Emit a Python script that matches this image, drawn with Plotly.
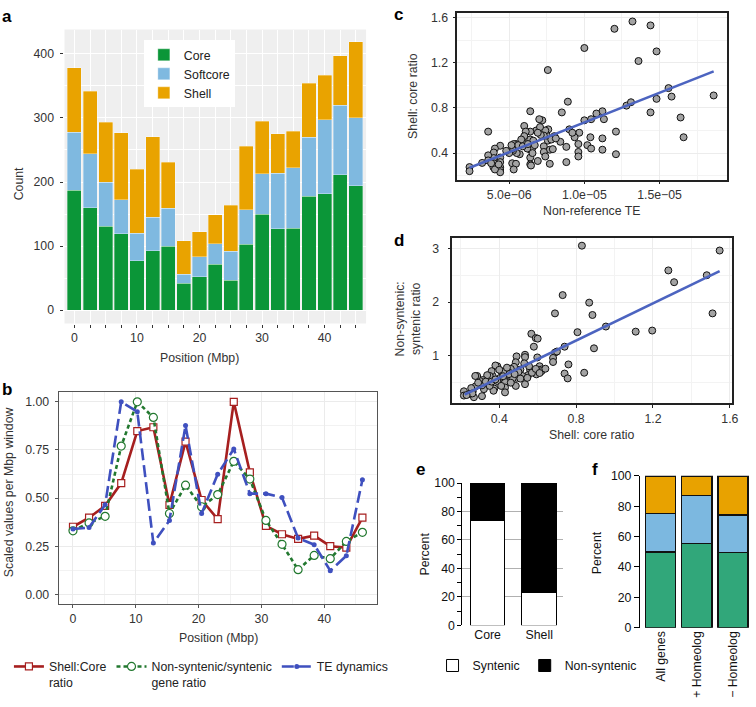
import plotly.graph_objects as go

W, H = 756, 707
FONT = "Liberation Sans"

# ---------------- Panel a data ----------------
a_positions = [i * 2.52 for i in range(19)]
a_tick_labels = ["0", "", "", "", "10", "", "", "", "20", "", "", "", "30", "", "", "", "40", "", ""]
a_core = [187, 160, 131, 119, 77, 93, 100, 42, 52, 72, 47, 103, 150, 127, 128, 178, 182, 211, 194]
a_softcore_top = [278, 244, 200, 172, 120, 145, 159, 56, 83, 104, 92, 157, 213, 214, 222, 270, 297, 320, 300]
a_total = [378, 342, 293, 277, 220, 271, 231, 108, 122, 149, 164, 256, 295, 275, 279, 354, 367, 397, 419]
a_softcore = [s - c for s, c in zip(a_softcore_top, a_core)]
a_shell = [t - s for t, s in zip(a_total, a_softcore_top)]

# ---------------- Panel b data ----------------
b_positions = [i * 2.56 for i in range(19)]
b_shell_core = [0.351, 0.398, 0.46, 0.578, 0.848, 0.868, 0.465, 0.793, 0.49, 0.391, 1.0, 0.634,
                0.356, 0.312, 0.288, 0.305, 0.25, 0.243, 0.398]
b_nonsyn = [0.33, 0.371, 0.405, 0.77, 1.0, 0.919, 0.42, 0.567, 0.455, 0.518, 0.691, 0.599,
            0.384, 0.26, 0.128, 0.202, 0.185, 0.275, 0.322]
b_te = [0.339, 0.347, 0.465, 1.0, 0.949, 0.266, 0.384, 0.877, 0.42, 0.624, 0.755, 0.523,
        0.523, 0.503, 0.292, 0.258, 0.123, 0.2, 0.595]

# ---------------- Panel c data (x in units of 1e-6) ----------------
c_te_micro = [7.57, 10.0, 12.0, 13.2, 14.4, 14.8, 13.6, 15.6, 15.8, 18.6, 14.8, 14.4, 16.4, 16.6, 12.8, 13.1,
              12.1, 12.1, 11.2, 11.3, 11.2, 11.2, 10.8, 10.45, 10.0, 10.2, 10.4, 10.45, 9.66, 9.6, 9.6, 9.6,
              9.35, 9.0, 9.2, 8.9, 8.8, 8.8, 8.5, 8.4, 8.0, 7.7, 7.7, 7.57, 7.5, 7.6, 7.2, 7.0, 7.4, 7.3,
              7.3, 7.3, 7.4, 6.9, 6.8, 7.05, 7.1, 6.4, 6.4, 6.4, 6.4, 6.4, 6.4, 6.45, 6.6, 6.55, 6.0, 6.1,
              6.0, 5.95, 5.8, 5.7, 5.5, 5.45, 5.3, 5.25, 5.2, 5.45, 5.3, 5.2, 5.0, 4.8, 4.4, 4.4, 4.4, 4.4,
              4.4, 4.4, 4.05, 3.97, 3.97, 3.97, 3.95, 4.05, 3.6, 3.6, 3.6, 3.2, 2.36, 2.36, 6.55, 7.9, 5.6,
              6.2, 6.9, 7.8, 5.15, 4.3, 3.8, 6.7, 8.1, 5.9, 6.25]
c_ratio = [1.135, 1.33, 1.50, 1.565, 1.53, 1.30, 1.215, 0.975, 0.90, 0.91, 0.88, 0.76, 0.715, 0.54, 0.82, 0.85,
           0.59, 0.39, 0.77, 0.70, 0.53, 0.43, 0.75, 0.70, 0.69, 0.47, 0.54, 0.44, 0.58, 0.48, 0.41, 0.37,
           0.54, 0.61, 0.58, 0.855, 0.455, 0.32, 0.76, 0.50, 0.55, 0.305, 0.43, 0.51, 0.555, 0.61, 0.69, 0.70,
           0.60, 0.555, 0.46, 0.41, 0.37, 0.33, 0.60, 0.63, 0.56, 0.77, 0.59, 0.52, 0.43, 0.36, 0.30, 0.29,
           0.51, 0.45, 0.64, 0.59, 0.55, 0.49, 0.52, 0.39, 0.40, 0.48, 0.48, 0.42, 0.31, 0.305, 0.255, 0.435,
           0.40, 0.42, 0.465, 0.36, 0.32, 0.275, 0.25, 0.23, 0.44, 0.405, 0.356, 0.31, 0.275, 0.255, 0.59,
           0.38, 0.335, 0.313, 0.276, 0.24, 0.40, 0.435, 0.47, 0.44, 0.58, 0.52, 0.47, 0.30, 0.31, 0.47,
           0.53, 0.46, 0.48]
c_te = [v * 1e-6 for v in c_te_micro]
c_fit_x = [2.36e-6, 18.6e-6]
c_fit_y = [0.27, 1.123]
c_tickvals = [5e-6, 1e-5, 1.5e-5]
c_ticktext = ["5.0e\u221206", "1.0e\u221205", "1.5e\u221205"]

# ---------------- Panel d data ----------------
d_shell_core = [0.83, 1.547, 1.28, 1.31, 1.48, 1.51, 1.196, 1.11, 0.955, 0.893, 0.868, 0.885, 0.73, 0.69, 0.807,
                0.74, 0.76, 0.74, 0.756, 0.842, 0.69, 0.68, 0.68, 0.70, 0.567, 0.58, 0.59, 0.60, 0.598, 0.534,
                0.534, 0.49, 0.61, 0.62, 0.593, 0.56, 0.55, 0.534, 0.52, 0.51, 0.486, 0.477, 0.46, 0.49, 0.486,
                0.452, 0.44, 0.43, 0.43, 0.43, 0.41, 0.405, 0.39, 0.38, 0.366, 0.36, 0.374, 0.37, 0.35, 0.337,
                0.322, 0.314, 0.30, 0.297, 0.285, 0.275, 0.276, 0.262, 0.254, 0.31, 0.268, 0.216, 0.216, 0.245,
                0.32, 0.35, 0.39, 0.41, 0.455, 0.47, 0.51, 0.546, 0.57, 0.62, 0.59, 0.555, 0.45, 0.42, 0.40,
                0.31, 0.33, 0.29, 0.50, 0.53, 0.44, 0.36, 0.46, 0.26, 0.23, 0.64, 0.61, 0.42, 0.48, 0.38]
d_nonsyn = [3.05, 2.96, 2.59, 2.37, 2.50, 1.79, 1.47, 1.45, 1.545, 1.14, 1.99, 1.76, 2.13, 1.79, 1.44,
            1.17, 0.84, 0.67, 0.58, 0.685, 1.06, 0.96, 0.885, 1.08, 1.41, 1.17, 1.33, 1.32, 0.97, 1.02,
            0.976, 0.99, 0.806, 0.745, 0.655, 0.745, 0.64, 0.473, 0.625, 0.745, 0.88, 0.795, 0.757, 0.59, 0.44,
            0.685, 0.59, 0.515, 0.41, 0.32, 0.715, 0.59, 0.806, 0.82, 0.625, 0.715, 0.39, 0.35, 0.625, 0.64,
            0.50, 0.55, 0.53, 0.47, 0.625, 0.625, 0.43, 0.34, 0.40, 0.25, 0.23, 0.34, 0.26, 0.29,
            0.38, 0.44, 0.53, 0.44, 0.625, 0.58, 0.576, 0.59, 0.685, 0.715, 0.757, 0.806, 0.66, 0.70, 0.74,
            0.45, 0.52, 0.50, 0.70, 0.86, 0.78, 0.52, 0.50, 0.30, 0.27, 0.76, 0.68, 0.62, 0.66, 0.56]
d_fit_x = [0.22, 1.547]
d_fit_y = [0.28, 2.576]

# ---------------- Panel e data ----------------
e_categories = ["Core", "Shell"]
e_syntenic = [74, 23]
e_nonsyntenic = [26, 77]

# ---------------- Panel f data ----------------
f_categories = ["All genes", "+ Homeolog", "\u2212 Homeolog"]
f_core = [50, 55.5, 49.5]
f_softcore = [25.3, 31.6, 24.7]
f_shell = [24.7, 12.9, 25.8]

# ---------------- helpers ----------------
def px_x(p):
    return p / W

def px_y(p):
    return 1 - p / H

def dom_x(a, b):
    return [px_x(a), px_x(b)]

def dom_y(top, bottom):
    return [px_y(bottom), px_y(top)]

A_GREEN, A_BLUE, A_ORANGE = "#0b9638", "#7fb9e0", "#e9a300"
F_GREEN, F_BLUE, F_ORANGE = "#31a77a", "#7cb8e0", "#e8a200"
RED, DGREEN, BLUE = "#a61f1f", "#22782f", "#3f50bf"
FIT = "#4c64c0"
TXT = "#333333"

fig = go.Figure()

# Panel a
for name, vals, col in [("Core", a_core, A_GREEN), ("Softcore", a_softcore, A_BLUE), ("Shell", a_shell, A_ORANGE)]:
    fig.add_trace(go.Bar(x=a_positions, y=vals, name=name, width=2.27, legendgroup=name,
                         marker=dict(color=col, line=dict(color="rgba(255,255,255,0.55)", width=0.6)),
                         xaxis="x", yaxis="y", legend="legend"))

# Panel b
fig.add_trace(go.Scatter(x=b_positions, y=b_shell_core, name="Shell:Core<br>ratio", mode="lines+markers",
                         line=dict(color=RED, width=2.6),
                         marker=dict(symbol="square", size=7, color="white", line=dict(color=RED, width=1.2)),
                         xaxis="x2", yaxis="y2", legend="legend2"))
fig.add_trace(go.Scatter(x=b_positions, y=b_nonsyn, name="Non-syntenic/syntenic<br>gene ratio", mode="lines+markers",
                         line=dict(color=DGREEN, width=2.6, dash="4px,3px"),
                         marker=dict(symbol="circle", size=8, color="white", line=dict(color=DGREEN, width=1.2)),
                         xaxis="x2", yaxis="y2", legend="legend2"))
fig.add_trace(go.Scatter(x=b_positions, y=b_te, name="TE dynamics", mode="lines+markers",
                         line=dict(color=BLUE, width=2.6, dash="12px,5px"),
                         marker=dict(symbol="circle", size=5, color=BLUE),
                         xaxis="x2", yaxis="y2", legend="legend2"))

# Panel c
fig.add_trace(go.Scatter(x=c_te, y=c_ratio, mode="markers", showlegend=False,
                         marker=dict(size=7, color="#a3a3a3", line=dict(color="#111111", width=1)),
                         xaxis="x3", yaxis="y3"))
fig.add_trace(go.Scatter(x=c_fit_x, y=c_fit_y, mode="lines", showlegend=False,
                         line=dict(color=FIT, width=2.6), xaxis="x3", yaxis="y3"))

# Panel d
fig.add_trace(go.Scatter(x=d_shell_core, y=d_nonsyn, mode="markers", showlegend=False,
                         marker=dict(size=7, color="#a3a3a3", line=dict(color="#111111", width=1)),
                         xaxis="x4", yaxis="y4"))
fig.add_trace(go.Scatter(x=d_fit_x, y=d_fit_y, mode="lines", showlegend=False,
                         line=dict(color=FIT, width=2.6), xaxis="x4", yaxis="y4"))

# Panel e
fig.add_trace(go.Bar(x=e_categories, y=e_syntenic, name="Syntenic", width=0.67, cliponaxis=False,
                     marker=dict(color="white", line=dict(color="black", width=1)),
                     xaxis="x5", yaxis="y5", legend="legend3"))
fig.add_trace(go.Bar(x=e_categories, y=e_nonsyntenic, name="Non-syntenic", width=0.67, cliponaxis=False,
                     marker=dict(color="black", line=dict(color="black", width=1)),
                     xaxis="x5", yaxis="y5", legend="legend3"))

# Panel f
for vals, col in [(f_core, F_GREEN), (f_softcore, F_BLUE), (f_shell, F_ORANGE)]:
    fig.add_trace(go.Bar(x=f_categories, y=vals, width=0.84, showlegend=False, cliponaxis=False,
                         marker=dict(color=col, line=dict(color="#111111", width=1.5)),
                         xaxis="x6", yaxis="y6"))

tickf = dict(family=FONT, size=12.3, color=TXT)
tickf_k = dict(family=FONT, size=12.3, color="#111111")

layout = dict(
    width=W, height=H, margin=dict(l=0, r=0, t=0, b=0),
    paper_bgcolor="white", plot_bgcolor="white",
    barmode="stack", font=dict(family=FONT, size=12.3, color=TXT),
    # panel a
    xaxis=dict(domain=dom_x(65, 369), range=[-1.6, 47.0], tickvals=a_positions, ticktext=a_tick_labels,
               ticks="outside", ticklen=3, tickcolor=TXT, tickwidth=1, showgrid=True, gridcolor="white",
               gridwidth=1.1, zeroline=False, showline=False, tickfont=tickf, anchor="y"),
    yaxis=dict(domain=dom_y(23, 323), range=[-21, 438], tickvals=[0, 100, 200, 300, 400],
               ticks="outside", ticklen=3, tickcolor=TXT, showgrid=True, gridcolor="white", gridwidth=1.1,
               minor=dict(tickvals=[50, 150, 250, 350], showgrid=True, gridcolor="white", gridwidth=0.5, ticks=""),
               zeroline=False, showline=False, tickfont=tickf, anchor="x", ticklabelstandoff=4),
    # panel b
    xaxis2=dict(domain=dom_x(59, 380), range=[-2.3, 48.4], tickvals=[0, 10, 20, 30, 40],
                ticks="outside", ticklen=3, tickcolor="#555", showgrid=True, gridcolor="#ebebeb", gridwidth=0.8,
                minor=dict(tickvals=[5, 15, 25, 35, 45], showgrid=True, gridcolor="#f2f2f2", gridwidth=0.5, ticks=""),
                zeroline=False, showline=True, mirror=True, linecolor="#555", linewidth=1,
                tickfont=tickf, anchor="y2"),
    yaxis2=dict(domain=dom_y(393, 609), range=[-0.05, 1.05], tickvals=[0, 0.25, 0.5, 0.75, 1.0],
                tickformat=".2f", ticks="outside", ticklen=3, tickcolor="#555", showgrid=True, gridcolor="#ebebeb",
                gridwidth=0.8,
                minor=dict(tickvals=[0.125, 0.375, 0.625, 0.875], showgrid=True, gridcolor="#f2f2f2",
                           gridwidth=0.5, ticks=""),
                zeroline=False, showline=True, mirror=True, linecolor="#555", linewidth=1,
                tickfont=tickf, anchor="x2", ticklabelstandoff=3),
    # panel c
    xaxis3=dict(domain=dom_x(461, 733), range=[1.55e-6, 1.95e-5], tickvals=c_tickvals, ticktext=c_ticktext,
                ticks="outside", ticklen=3, tickcolor="#222", showgrid=True, gridcolor="#ececec", gridwidth=0.8,
                minor=dict(tickvals=[2.5e-6, 7.5e-6, 1.25e-5, 1.75e-5], showgrid=True, gridcolor="#f3f3f3",
                           gridwidth=0.5, ticks=""),
                zeroline=False, showline=True, mirror=True, linecolor="#222", linewidth=1.5,
                tickfont=tickf, anchor="y3"),
    yaxis3=dict(domain=dom_y(6, 176), range=[0.166, 1.641], tickvals=[0.4, 0.8, 1.2, 1.6], tickformat=".1f",
                ticks="outside", ticklen=3, tickcolor="#222", showgrid=True, gridcolor="#ececec", gridwidth=0.8,
                minor=dict(tickvals=[0.2, 0.6, 1.0, 1.4], showgrid=True, gridcolor="#f3f3f3", gridwidth=0.5, ticks=""),
                zeroline=False, showline=True, mirror=True, linecolor="#222", linewidth=1.5,
                tickfont=tickf, anchor="x3", ticklabelstandoff=2),
    # panel d
    xaxis4=dict(domain=dom_x(456, 738), range=[0.156, 1.612], tickvals=[0.4, 0.8, 1.2, 1.6], tickformat=".1f",
                ticks="outside", ticklen=3, tickcolor="#222", showgrid=True, gridcolor="#ececec", gridwidth=0.8,
                minor=dict(tickvals=[0.2, 0.6, 1.0, 1.4], showgrid=True, gridcolor="#f3f3f3", gridwidth=0.5, ticks=""),
                zeroline=False, showline=True, mirror=True, linecolor="#222", linewidth=1.5,
                tickfont=tickf, anchor="y4"),
    yaxis4=dict(domain=dom_y(236, 404), range=[0.122, 3.187], tickvals=[1, 2, 3],
                ticks="outside", ticklen=3, tickcolor="#222", showgrid=True, gridcolor="#ececec", gridwidth=0.8,
                minor=dict(tickvals=[0.5, 1.5, 2.5], showgrid=True, gridcolor="#f3f3f3", gridwidth=0.5, ticks=""),
                zeroline=False, showline=True, mirror=True, linecolor="#222", linewidth=1.5,
                tickfont=tickf, anchor="x4", ticklabelstandoff=6),
    # panel e
    xaxis5=dict(domain=dom_x(466, 568), range=[-0.49, 1.47], ticks="", showgrid=False, zeroline=False,
                showline=False, tickfont=tickf_k, anchor="y5"),
    yaxis5=dict(domain=dom_y(485.7, 630.7), range=[0, 100], tickvals=[0, 20, 40, 60, 80, 100],
                ticks="outside", ticklen=4, tickcolor="black", showgrid=True, gridcolor="#b0b0b0", gridwidth=1,
                minor=dict(tickvals=[10, 30, 50, 70, 90], ticks="outside", ticklen=4, tickcolor="black",
                           showgrid=False),
                zeroline=False, showline=True, linecolor="black", linewidth=1, tickfont=tickf_k, anchor="x5"),
    # panel f
    xaxis6=dict(domain=[px_x(645), 1.0], range=[-0.57, 2.47], ticks="", showgrid=False, zeroline=False,
                showline=False, tickangle=-90, tickfont=tickf_k, anchor="y6"),
    yaxis6=dict(domain=dom_y(478.3, 633.3), range=[0, 100], tickvals=[0, 20, 40, 60, 80, 100],
                ticks="outside", ticklen=5, tickcolor="black", showgrid=False,
                zeroline=False, showline=True, linecolor="black", linewidth=1, tickfont=tickf_k, anchor="x6"),
    legend=dict(x=px_x(145), y=px_y(34), xanchor="left", yanchor="top", bgcolor="white",
                traceorder="normal", tracegroupgap=4, font=dict(family=FONT, size=12.3, color="#222"),
                itemwidth=30, borderwidth=0),
    legend2=dict(orientation="h", x=px_x(9), y=px_y(658), xanchor="left", yanchor="top",
                 valign="top", bgcolor="rgba(0,0,0,0)", font=dict(family=FONT, size=12.3, color="#222"),
                 itemwidth=30),
    legend3=dict(orientation="h", x=px_x(436), y=px_y(657), xanchor="left", yanchor="top",
                 bgcolor="rgba(0,0,0,0)", font=dict(family=FONT, size=12.3, color="#111"), itemwidth=30,
                 traceorder="normal"),
)
fig.update_layout(**layout)

# grey panel background for a
fig.add_shape(type="rect", xref="x domain", yref="y domain", x0=0, x1=1, y0=0, y1=1,
              fillcolor="#efefef", line=dict(width=0), layer="below")

def ann(text, x, y, size=12.3, angle=0, bold=False, color=TXT):
    fig.add_annotation(text=f"<b>{text}</b>" if bold else text, x=px_x(x), y=px_y(y), xref="paper", yref="paper",
                       showarrow=False, textangle=angle, font=dict(family=FONT, size=size, color=color),
                       xanchor="center", yanchor="middle")

# panel letters
for letter, x, y in [("a", 7, 10), ("b", 7, 390), ("c", 402, 8), ("d", 402, 238), ("e", 424, 472), ("f", 600, 472)]:
    ann(letter, x, y, size=17, bold=True, color="black")

# axis titles
ann("Count", 20, 180, angle=-90)
ann("Position (Mbp)", 201, 358)
ann("Position (Mbp)", 220, 644)
ann("Scaled values per Mbp window", 9, 495, angle=-90)
ann("Shell: core ratio", 417, 91, angle=-90)
ann("Non-reference TE", 597, 208)
ann("Non-syntenic:<br>syntenic ratio", 411, 318, angle=-90)
ann("Shell: core ratio", 597, 437)
ann("Percent", 428, 558, angle=-90, color="#111")
ann("Percent", 602, 557, angle=-90, color="#111")

fig.write_html("out.html", config={"displayModeBar": False},
               post_script="document.body.style.margin='0';document.body.style.overflow='hidden';")
